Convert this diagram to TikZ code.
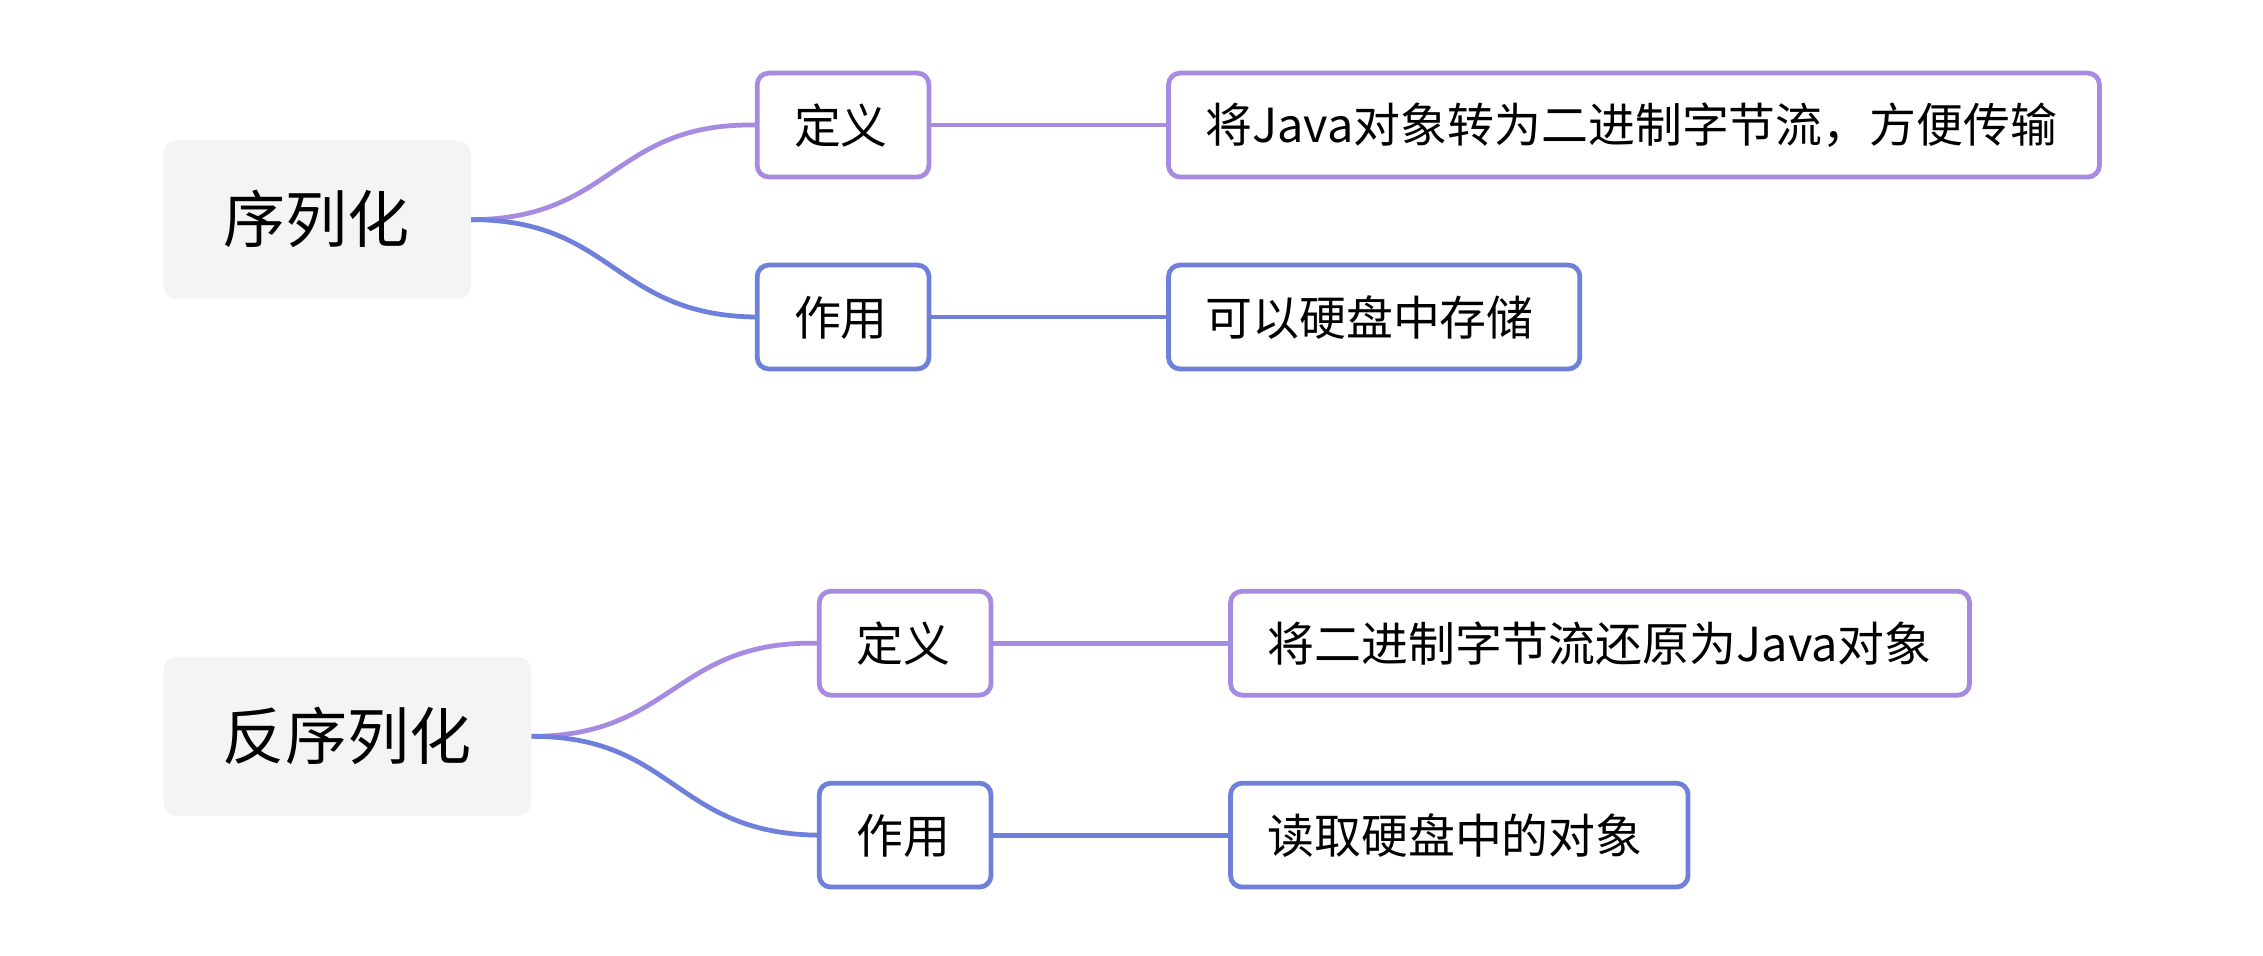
\documentclass[tikz,border=0pt]{standalone}
\usepackage{fontspec}
\setmainfont{Noto Sans CJK SC}
\definecolor{pur}{HTML}{A68BE0}
\definecolor{blu}{HTML}{6E80DA}
\definecolor{rootbg}{HTML}{F4F4F4}
\begin{document}
\begin{tikzpicture}[x=1pt,y=-1pt,
  root/.style={fill=rootbg,rounded corners=9pt,inner sep=0pt},
  box/.style={draw=#1,line width=3.3pt,rounded corners=8pt,fill=white,inner sep=0pt},
  con/.style={draw=#1,line width=3.3pt}]
\useasboundingbox (0,0) rectangle (1568,662);
\def\bx#1#2#3#4#5#6#7{\node[box=#6,minimum width=#3-#2,minimum height=72,anchor=north west] (#1) at (#2,#4) {};\node[font=\fontsize{32.5}{36}\selectfont,anchor=west,inner sep=0pt] at (#2+#5,#4+38) {#7};}
% tree 1
\node[root,minimum width=213,minimum height=110,anchor=north west] (r1) at (113,97) {};
\node[font=\fontsize{43}{48}\selectfont] at (219.5,152) {序列化};
\bx{d1}{523}{642}{49}{27}{pur}{定义}
\bx{l1}{808}{1453}{49}{27}{pur}{将Java对象转为二进制字节流，方便传输}
\bx{z1}{523}{642}{182}{27}{blu}{作用}
\bx{m1}{808}{1093}{182}{27}{blu}{可以硬盘中存储}
\draw[con=pur] (r1.east) .. controls (425,152) and (425,85) .. (d1.west);
\draw[con=blu] (r1.east) .. controls (425,152) and (425,218) .. (z1.west);
\draw[con=pur] (d1.east) -- (l1.west);
\draw[con=blu] (z1.east) -- (m1.west);
% tree 2
\node[root,minimum width=255,minimum height=110,anchor=north west] (r2) at (113,455) {};
\node[font=\fontsize{43}{48}\selectfont] at (240.5,510) {反序列化};
\bx{d2}{566}{685}{408}{27}{pur}{定义}
\bx{l2}{851}{1363}{408}{27}{pur}{将二进制字节流还原为Java对象}
\bx{z2}{566}{685}{541}{27}{blu}{作用}
\bx{m2}{851}{1168}{541}{27}{blu}{读取硬盘中的对象}
\draw[con=pur] (r2.east) .. controls (467,510) and (467,444) .. (d2.west);
\draw[con=blu] (r2.east) .. controls (467,510) and (467,577) .. (z2.west);
\draw[con=pur] (d2.east) -- (l2.west);
\draw[con=blu] (z2.east) -- (m2.west);
\end{tikzpicture}
\end{document}
